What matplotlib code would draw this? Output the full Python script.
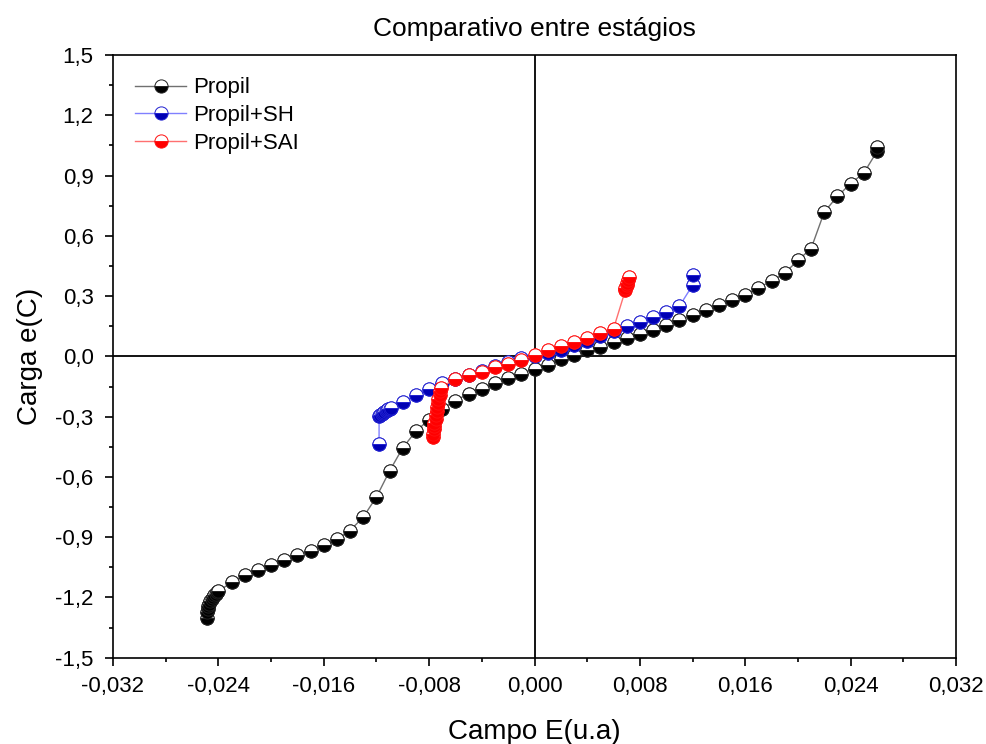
import matplotlib
matplotlib.use('Agg')
import matplotlib.pyplot as plt
from matplotlib.ticker import MultipleLocator, FuncFormatter
import numpy as np

plt.rcParams['font.family'] = ['Liberation Sans', 'DejaVu Sans']

# Propil
x_propil = [-0.0249, -0.02485, -0.0248, -0.02475, -0.0247, -0.0246, -0.0245,
            -0.0244, -0.0243, -0.0242, -0.0241, -0.0240,
            -0.023, -0.022, -0.021, -0.020, -0.019, -0.018, -0.017, -0.016,
            -0.015, -0.014, -0.013, -0.012, -0.011, -0.010, -0.009, -0.008,
            -0.007, -0.006, -0.005, -0.004, -0.003, -0.002, -0.001, 0.000,
            0.001, 0.002, 0.003, 0.004, 0.005, 0.006, 0.007, 0.008, 0.009,
            0.010, 0.011, 0.012, 0.013, 0.014, 0.015, 0.016, 0.017, 0.018,
            0.019, 0.020, 0.021, 0.022, 0.023, 0.024, 0.025, 0.026, 0.026]
y_propil = [-1.30, -1.275, -1.26, -1.245, -1.232, -1.22, -1.208,
            -1.198, -1.19, -1.182, -1.175, -1.17,
            -1.124, -1.09, -1.063, -1.04, -1.016, -0.99, -0.97, -0.94,
            -0.91, -0.867, -0.80, -0.70, -0.57, -0.455, -0.372, -0.315,
            -0.26, -0.22, -0.186, -0.161, -0.131, -0.108, -0.086, -0.061,
            -0.045, -0.011, 0.005, 0.03, 0.046, 0.071, 0.093, 0.113, 0.133,
            0.155, 0.179, 0.204, 0.229, 0.254, 0.279, 0.307, 0.342, 0.375,
            0.415, 0.478, 0.537, 0.719, 0.797, 0.86, 0.913, 1.02, 1.04]

# Propil+SH
x_sh = [-0.0118, -0.0118, -0.0117, -0.0116, -0.0115, -0.0114, -0.0113,
        -0.0112, -0.0111, -0.0110, -0.0109, -0.010,
        -0.009, -0.008, -0.007, -0.006, -0.005, -0.004, -0.003, -0.002,
        -0.001, 0.000, 0.001, 0.002, 0.003, 0.004, 0.005, 0.006, 0.007,
        0.008, 0.009, 0.010, 0.011, 0.012, 0.012]
y_sh = [-0.435, -0.296, -0.29, -0.285, -0.28, -0.276, -0.272,
        -0.268, -0.264, -0.26, -0.255, -0.226,
        -0.194, -0.163, -0.135, -0.115, -0.095, -0.072, -0.05, -0.03,
        -0.01, 0.003, 0.015, 0.033, 0.055, 0.078, 0.10, 0.125, 0.15,
        0.171, 0.196, 0.221, 0.25, 0.354, 0.404]

# Propil+SAI
x_sai = [-0.0077, -0.0077, -0.0076, -0.0076, -0.0076, -0.0075, -0.0075,
         -0.0074, -0.0074, -0.0073, -0.0073, -0.0072, -0.0072, -0.0071,
         -0.006, -0.005, -0.004, -0.003, -0.002, -0.001,
         0.000, 0.001, 0.002, 0.003, 0.004, 0.005, 0.006, 0.0069, 0.0069,
         0.0070, 0.0070, 0.0071, 0.0072]
y_sai = [-0.40, -0.385, -0.36, -0.345, -0.33, -0.31, -0.29,
         -0.27, -0.25, -0.23, -0.21, -0.19, -0.17, -0.155,
         -0.111, -0.095, -0.078, -0.053, -0.036, -0.017,
         0.005, 0.03, 0.05, 0.071, 0.093, 0.116, 0.138, 0.33, 0.342,
         0.355, 0.367, 0.38, 0.395]

fig = plt.figure(figsize=(9.86, 7.44), dpi=100)
ax = fig.add_axes([0.1146, 0.116, 0.855, 0.81])

ax.axhline(0, color='black', lw=1.3, zorder=1)
ax.axvline(0, color='black', lw=1.3, zorder=1)

# (x, y, label, marker colour, line colour, edge colour)
series = [
    (x_propil, y_propil, 'Propil', '#000000', '#707070', '#202020'),
    (x_sh, y_sh, 'Propil+SH', '#0000b4', '#8080ff', '#2020d0'),
    (x_sai, y_sai, 'Propil+SAI', '#ff0000', '#ff7070', '#ff1010'),
]
for i, (xs, ys, name, fc, lc, ec) in enumerate(series):
    mk = dict(marker='o', markersize=9.5, fillstyle='bottom',
              markerfacecolor=fc, markerfacecoloralt='white',
              markeredgecolor=ec, markeredgewidth=0.7)
    ax.plot(xs, ys, '-', color=lc, lw=1.0, label=name, zorder=2 + 2 * i, **mk)
    # each marker drawn on its own so the halves stack point by point
    for x, y in zip(xs, ys):
        ax.plot([x], [y], linestyle='none', zorder=3 + 2 * i, **mk)

ax.set_xlim(-0.032, 0.032)
ax.set_ylim(-1.5, 1.5)
ax.xaxis.set_major_locator(MultipleLocator(0.008))
ax.xaxis.set_minor_locator(MultipleLocator(0.004))
ax.yaxis.set_major_locator(MultipleLocator(0.3))
ax.yaxis.set_minor_locator(MultipleLocator(0.15))
ax.xaxis.set_major_formatter(FuncFormatter(lambda v, p: f'{v:.3f}'.replace('.', ',').replace('-0,000', '0,000')))
ax.yaxis.set_major_formatter(FuncFormatter(lambda v, p: f'{v:.1f}'.replace('.', ',').replace('-0,0', '0,0')))
ax.tick_params(which='major', direction='out', length=6, width=1.2, labelsize=16)
ax.tick_params(which='minor', direction='out', length=3, width=1.2)
ax.tick_params(axis='x', which='major', pad=7)
ax.tick_params(axis='y', which='major', pad=8)
for s in ax.spines.values():
    s.set_linewidth(1.2)

ax.set_title('Comparativo entre estágios', fontsize=19, pad=14)
ax.set_xlabel('Campo E(u.a)', fontsize=20, labelpad=16)
ax.set_ylabel('Carga e(C)', fontsize=20, labelpad=9)

leg = ax.legend(loc='upper left', frameon=False, fontsize=16, handlelength=2.3,
                borderaxespad=0.5, labelspacing=0.3, handletextpad=0.3,
                borderpad=0.5)

fig.savefig('out.png', dpi=100)
